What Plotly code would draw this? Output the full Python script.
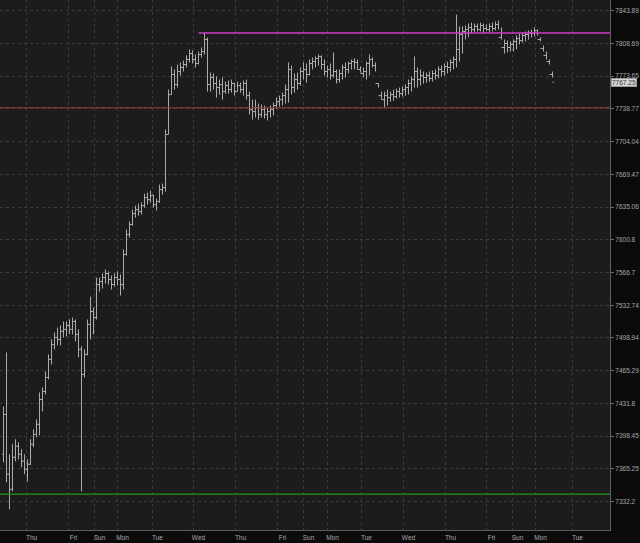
import math
import plotly.graph_objects as go

# ---- data ----
opens = [7380.1, 7420.6, 7359.8, 7344.6, 7377.0, 7388.2, 7380.1, 7373.0, 7364.9, 7370.0,
         7390.2, 7400.3, 7410.5, 7435.8, 7444.0, 7458.4, 7476.9, 7492.3, 7499.5, 7497.5,
         7505.7, 7507.8, 7511.9, 7507.8, 7516.0, 7502.6, 7487.2, 7461.5, 7482.1, 7512.9,
         7526.3, 7520.1, 7554.2, 7557.4, 7561.5, 7565.7, 7559.4, 7554.2, 7561.5, 7559.4,
         7554.2, 7585.5, 7606.3, 7616.8, 7628.2, 7632.4, 7630.3, 7636.5, 7644.9, 7642.8,
         7647.0, 7637.6, 7640.7, 7653.4,
         7655.5, 7711.6, 7754.0, 7775.4, 7764.7, 7778.6, 7782.9, 7786.1, 7791.5, 7797.9,
         7791.5, 7787.2, 7796.8, 7800.1, 7812.9, 7764.7, 7772.2, 7765.8, 7761.5, 7764.7,
         7757.2, 7763.6, 7759.3, 7765.8, 7757.2, 7763.6, 7759.3, 7765.8, 7752.9, 7738.0,
         7735.9, 7740.1, 7732.7, 7738.0, 7732.7, 7735.9, 7738.0, 7742.3, 7746.5, 7748.6,
         7752.9, 7759.3, 7780.8, 7761.5, 7770.0, 7765.8, 7778.6, 7780.8, 7775.4, 7787.2,
         7789.3, 7792.6, 7794.7, 7786.1, 7778.6, 7780.8, 7774.3, 7778.6, 7770.0, 7776.5,
         7782.9, 7780.8, 7787.2, 7789.3, 7788.3, 7780.8, 7776.5, 7778.6, 7787.2, 7791.5,
         7785.0, 7765.8, 7752.9, 7748.6, 7752.9, 7750.7, 7754.0, 7751.8, 7757.2, 7755.0,
         7759.3, 7761.5, 7765.8, 7770.0, 7778.6, 7770.0, 7774.3, 7772.2, 7774.3, 7771.1,
         7776.5, 7774.3, 7780.8, 7778.6, 7784.0, 7782.9,
         7788.3, 7791.5, 7802.2, 7818.3, 7821.5, 7823.6, 7825.8, 7823.6, 7826.9, 7823.6,
         7827.9, 7824.7, 7823.6, 7826.9, 7824.7, 7829.0, 7815.1, 7804.3, 7808.6, 7804.3,
         7807.6, 7810.8, 7814.0, 7811.8, 7817.2, 7818.3, 7820.4, 7819.4, 7822.6, 7812.9,
         7803.3, 7795.8, 7789.3, 7775.4]
highs = [7428.7, 7484.1, 7380.1, 7390.2, 7395.3, 7392.2, 7385.2, 7380.1, 7375.0, 7395.3,
         7405.4, 7415.5, 7443.0, 7448.1, 7464.6, 7482.1, 7497.5, 7504.7, 7509.8, 7511.9,
         7516.0, 7516.0, 7518.0, 7520.1, 7518.0, 7507.8, 7490.3, 7487.2, 7518.0, 7541.7,
         7530.4, 7561.5, 7561.5, 7565.7, 7569.9, 7567.8, 7563.6, 7565.7, 7567.8, 7564.7,
         7590.7, 7611.5, 7619.9, 7632.4, 7636.5, 7638.6, 7639.7, 7649.1, 7650.2, 7652.3,
         7648.1, 7643.9, 7658.7, 7659.7,
         7716.9, 7759.3, 7784.0, 7780.8, 7786.1, 7788.3, 7790.4, 7795.8, 7802.2, 7801.1,
         7796.8, 7800.1, 7804.3, 7820.4, 7815.1, 7777.5, 7776.5, 7773.3, 7770.0, 7772.2,
         7767.9, 7769.0, 7770.0, 7766.8, 7767.9, 7766.8, 7769.0, 7770.0, 7757.2, 7748.6,
         7748.6, 7744.4, 7743.3, 7742.3, 7740.1, 7742.3, 7745.4, 7750.7, 7752.9, 7756.1,
         7764.7, 7788.3, 7785.0, 7776.5, 7777.5, 7782.9, 7788.3, 7787.2, 7791.5, 7793.6,
         7794.7, 7796.8, 7795.8, 7791.5, 7785.0, 7787.2, 7799.0, 7780.8, 7780.8, 7786.1,
         7788.3, 7789.3, 7791.5, 7792.6, 7791.5, 7784.0, 7782.9, 7789.3, 7796.8, 7793.6,
         7788.3, 7765.8, 7757.2, 7757.2, 7759.3, 7757.2, 7759.3, 7760.4, 7761.5, 7762.5,
         7764.7, 7770.0, 7773.3, 7794.7, 7782.9, 7780.8, 7778.6, 7777.5, 7778.6, 7779.7,
         7780.8, 7784.0, 7785.0, 7787.2, 7789.3, 7791.5,
         7794.7, 7839.7, 7826.9, 7826.9, 7827.9, 7830.1, 7831.1, 7830.1, 7830.1, 7831.1,
         7830.1, 7829.0, 7830.1, 7831.1, 7832.2, 7833.3, 7825.8, 7812.9, 7811.8, 7810.8,
         7812.9, 7817.2, 7819.4, 7820.4, 7821.5, 7822.6, 7823.6, 7825.8, 7823.6, 7815.1,
         7806.5, 7800.1, 7791.5, 7778.6]
lows = [7372.0, 7351.7, 7324.4, 7342.6, 7373.0, 7375.0, 7366.9, 7359.8, 7352.7, 7369.0,
        7387.2, 7397.3, 7399.3, 7423.6, 7440.9, 7456.4, 7471.8, 7487.2, 7491.3, 7491.3,
        7499.5, 7500.6, 7502.6, 7502.6, 7495.4, 7479.0, 7342.6, 7458.4, 7481.0, 7497.5,
        7502.6, 7518.0, 7546.9, 7550.1, 7555.3, 7554.2, 7549.0, 7552.1, 7553.2, 7542.8,
        7549.0, 7584.4, 7603.2, 7615.7, 7624.0, 7626.1, 7627.2, 7634.5, 7637.6, 7639.7,
        7634.5, 7631.3, 7639.7, 7648.1,
        7651.3, 7711.6, 7754.0, 7759.3, 7761.5, 7774.3, 7778.6, 7782.9, 7788.3, 7787.2,
        7782.9, 7786.1, 7793.6, 7796.8, 7757.2, 7757.2, 7759.3, 7750.7, 7754.0, 7748.6,
        7755.0, 7755.0, 7756.1, 7752.9, 7757.2, 7756.1, 7752.9, 7748.6, 7732.7, 7727.4,
        7729.6, 7727.4, 7729.6, 7728.5, 7726.4, 7729.6, 7731.7, 7739.1, 7741.2, 7742.3,
        7744.4, 7745.4, 7754.0, 7756.1, 7759.3, 7763.6, 7770.0, 7766.8, 7774.3, 7780.8,
        7782.9, 7785.0, 7780.8, 7774.3, 7772.2, 7770.0, 7772.2, 7765.8, 7766.8, 7770.0,
        7772.2, 7776.5, 7780.8, 7780.8, 7780.8, 7777.5, 7772.2, 7770.0, 7774.3, 7782.9,
        7778.6, 7761.5, 7748.6, 7740.1, 7742.3, 7746.5, 7747.5, 7749.7, 7750.7, 7751.8,
        7752.9, 7754.0, 7757.2, 7761.5, 7761.5, 7763.6, 7765.8, 7766.8, 7767.9, 7767.9,
        7770.0, 7771.1, 7773.3, 7774.3, 7776.5, 7778.6,
        7780.8, 7782.9, 7789.3, 7797.9, 7812.9, 7815.1, 7819.4, 7820.4, 7821.5, 7821.5,
        7820.4, 7822.6, 7820.4, 7821.5, 7822.6, 7823.6, 7812.9, 7797.9, 7799.0, 7800.1,
        7800.1, 7802.2, 7807.6, 7809.7, 7810.8, 7812.9, 7815.1, 7816.1, 7817.2, 7810.8,
        7800.1, 7791.5, 7786.1, 7772.2, 7765.8]
closes = [7420.6, 7359.8, 7344.6, 7377.0, 7388.2, 7380.1, 7373.0, 7364.9, 7370.0, 7390.2,
          7400.3, 7410.5, 7435.8, 7444.0, 7458.4, 7476.9, 7492.3, 7499.5, 7497.5, 7505.7,
          7507.8, 7511.9, 7507.8, 7516.0, 7502.6, 7487.2, 7461.5, 7482.1, 7512.9, 7526.3,
          7520.1, 7554.2, 7557.4, 7561.5, 7565.7, 7559.4, 7554.2, 7561.5, 7559.4, 7554.2,
          7585.5, 7606.3, 7616.8, 7628.2, 7632.4, 7630.3, 7636.5, 7644.9, 7642.8, 7647.0,
          7637.6, 7640.7, 7653.4, 7655.5,
          7711.6, 7754.0, 7775.4, 7764.7, 7778.6, 7782.9, 7786.1, 7791.5, 7797.9, 7791.5,
          7787.2, 7796.8, 7800.1, 7812.9, 7764.7, 7772.2, 7765.8, 7761.5, 7764.7, 7757.2,
          7763.6, 7759.3, 7765.8, 7757.2, 7763.6, 7759.3, 7765.8, 7752.9, 7738.0, 7735.9,
          7740.1, 7732.7, 7738.0, 7732.7, 7735.9, 7738.0, 7742.3, 7746.5, 7748.6, 7752.9,
          7759.3, 7780.8, 7761.5, 7770.0, 7765.8, 7778.6, 7780.8, 7775.4, 7787.2, 7789.3,
          7792.6, 7794.7, 7786.1, 7778.6, 7780.8, 7774.3, 7778.6, 7770.0, 7776.5, 7782.9,
          7780.8, 7787.2, 7789.3, 7788.3, 7780.8, 7776.5, 7778.6, 7787.2, 7791.5, 7785.0,
          7765.8, 7752.9, 7748.6, 7752.9, 7750.7, 7754.0, 7751.8, 7757.2, 7755.0, 7759.3,
          7761.5, 7765.8, 7770.0, 7778.6, 7770.0, 7774.3, 7772.2, 7774.3, 7771.1, 7776.5,
          7774.3, 7780.8, 7778.6, 7784.0, 7782.9, 7788.3,
          7791.5, 7802.2, 7818.3, 7821.5, 7823.6, 7825.8, 7823.6, 7826.9, 7823.6, 7827.9,
          7824.7, 7823.6, 7826.9, 7824.7, 7829.0, 7815.1, 7804.3, 7808.6, 7804.3, 7807.6,
          7810.8, 7814.0, 7811.8, 7817.2, 7818.3, 7820.4, 7819.4, 7822.6, 7812.9, 7803.3,
          7795.8, 7789.3, 7775.4, 7767.25]
bar_index = list(range(len(closes)))

# day labels positioned at bar indices
day_tick_pos = [7.67, 21.67, 30.33, 38.0, 49.67, 63.33, 77.33, 91.33, 100.0, 108.0,
                119.33, 133.33, 147.33, 161.0, 169.67, 177.33, 189.67]
day_tick_text = ["Thu", "Fri", "Sun", "Mon", "Tue", "Wed", "Thu", "Fri", "Sun", "Mon",
                 "Tue", "Wed", "Thu", "Fri", "Sun", "Mon", "Tue"]

price_ticks = [7332.2, 7365.25, 7398.45, 7431.8, 7465.29, 7498.94, 7532.74, 7566.7,
               7600.8, 7635.06, 7669.47, 7704.04, 7738.77, 7773.65, 7808.69, 7843.89]
price_tick_text = ["7332.2", "7365.25", "7398.45", "7431.8", "7465.29", "7498.94",
                   "7532.74", "7566.7", "7600.8", "7635.06", "7669.47", "7704.04",
                   "7738.77", "7773.65", "7808.69", "7843.89"]

resistance_level = 7819.9
resistance_start_index = 65
pivot_level = 7740.0
support_level = 7339.7
last_price_text = "7767.25"

x_lo = -1.1667
x_hi = x_lo + 610 / 3

fig = go.Figure()
fig.add_trace(go.Ohlc(
    x=bar_index, open=opens, high=highs, low=lows, close=closes,
    increasing=dict(line=dict(color="#acacac", width=1)),
    decreasing=dict(line=dict(color="#acacac", width=1)),
    tickwidth=0.5, hoverinfo="skip", showlegend=False,
))

shapes = [
    dict(type="line", xref="x", yref="y", x0=resistance_start_index, x1=x_hi,
         y0=resistance_level, y1=resistance_level,
         line=dict(color="#c83cc8", width=1.3)),
    dict(type="line", xref="paper", yref="y", x0=0, x1=1,
         y0=pivot_level, y1=pivot_level, line=dict(color="#9e3b3b", width=1.2)),
    dict(type="line", xref="paper", yref="y", x0=0, x1=1,
         y0=support_level, y1=support_level, line=dict(color="#1f9a1f", width=1.3)),
]

fig.update_layout(
    width=640, height=543,
    margin=dict(l=0, r=30, t=0, b=13, autoexpand=False),
    paper_bgcolor="#0b0b0b",
    plot_bgcolor="#1c1c1c",
    font=dict(family="Liberation Sans, Arial, sans-serif", color="#a8a8a8", size=6.5),
    shapes=shapes,
    showlegend=False,
    xaxis=dict(
        range=[x_lo, x_hi], rangeslider=dict(visible=False),
        tickmode="array", tickvals=day_tick_pos, ticktext=day_tick_text,
        showgrid=True, gridcolor="#3a3a3a", griddash="dot", gridwidth=1,
        showline=True, linecolor="#5e5e5e", linewidth=1,
        ticks="", ticklabelshift=5, ticklabelstandoff=1, zeroline=False,
        automargin=False,
        tickfont=dict(size=6.5, color="#a8a8a8"),
    ),
    yaxis=dict(
        type="log", side="right", range=[3.86354, 3.89517],
        tickmode="array", tickvals=price_ticks, ticktext=price_tick_text,
        showgrid=True, gridcolor="#3a3a3a", griddash="dot", gridwidth=1,
        showline=True, linecolor="#5e5e5e", linewidth=1,
        ticks="outside", ticklen=3, tickcolor="#6a6a6a",
        zeroline=False, automargin=False,
        tickfont=dict(size=6.5, color="#a8a8a8"),
    ),
    annotations=[dict(
        xref="paper", yref="y", x=1.0, y=math.log10(closes[-1]),
        xanchor="left", yanchor="middle", xshift=1,
        text=last_price_text, showarrow=False,
        font=dict(size=6.5, color="#3a3a3a"),
        bgcolor="#d4d4d4", bordercolor="#9a9a9a", borderwidth=1, borderpad=0,
    )],
)

fig.write_html(
    "out.html",
    config={"displayModeBar": False},
    post_script="document.body.style.margin='0';document.body.style.overflow='hidden';",
)
